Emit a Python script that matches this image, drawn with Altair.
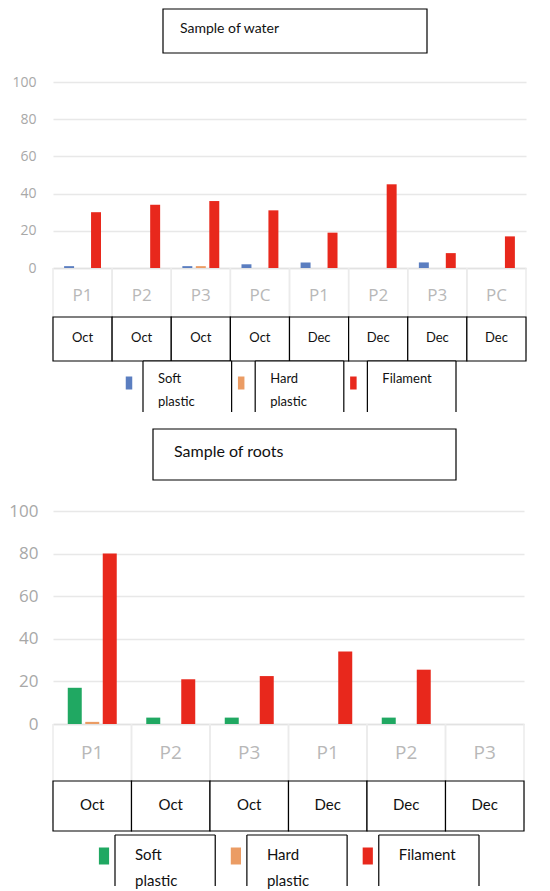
import altair as alt
import pandas as pd

series = ["Soft plastic", "Hard plastic", "Filament"]
y_ticks = [0, 20, 40, 60, 80, 100]

water_title = "Sample of water"
water_months = ["Oct", "Oct", "Oct", "Oct", "Dec", "Dec", "Dec", "Dec"]
water_sites = ["P1", "P2", "P3", "PC", "P1", "P2", "P3", "PC"]
water_soft = [1, 0, 1, 2, 3, 0, 3, 0]
water_hard = [0, 0, 1, 0, 0, 0, 0, 0]
water_fil = [30, 34, 36, 31, 19, 45, 8, 17]
water_colors = ["#5b7ec0", "#eb9c64", "#e8281c"]

roots_title = "Sample of roots"
roots_months = ["Oct", "Oct", "Oct", "Dec", "Dec", "Dec"]
roots_sites = ["P1", "P2", "P3", "P1", "P2", "P3"]
roots_soft = [17, 3, 3, 0, 3, 0]
roots_hard = [1, 0, 0, 0, 0, 0]
roots_fil = [80, 21, 22.5, 34, 25.5, 0]
roots_colors = ["#20a862", "#eb9c64", "#e8281c"]

LW = dict(width=473, height=186, xfs=17, xlp=19, sep_bot=271, pi=0.26, po=0.825,
          yfs=14, ylp=17, mb_top=235, mb_bot=279, mb_text=256, mb_fs=13,
          lg0=90, lg1=403, lpi=0.21, lg_top=279, lg_bot=330, sw_y=301, sw_dx=-14,
          sw_path="M-0.5,-1H0.5V1H-0.5Z", sw_size=169, lt_dx=15, lt_y=291, lt_lh=23, lt_fs=13,
          tb_x=110, tb_x2=374, tb_y=-73, tb_y2=-29, tt_x=127, tt_y=-53, tt_fs=14)
LR = dict(width=471, height=213, xfs=19, xlp=19, sep_bot=312, pi=0.2, po=0.843,
          yfs=17, ylp=15, mb_top=270, mb_bot=320, mb_text=294, mb_fs=15,
          lg0=62, lg1=426, lpi=0.24, lg_top=324, lg_bot=375, sw_y=345, sw_dx=-11,
          sw_path="M-0.6,-1H0.6V1H-0.6Z", sw_size=289, lt_dx=20, lt_y=337, lt_lh=26, lt_fs=15,
          tb_x=100, tb_x2=403, tb_y=-82, tb_y2=-31, tt_x=121, tt_y=-59, tt_fs=16)

BOXFONT = "Lato"
AXFONT = "Open Sans"


def panel(title, months, sites, soft, hard, fil, colors, L):
    cats = [f"{m} {s}" for m, s in zip(months, sites)]
    rows = []
    for c, a, b, f in zip(cats, soft, hard, fil):
        for s, v in zip(series, [a, b, f]):
            rows.append({"cat": c, "series": s, "value": v})
    bars_df = pd.DataFrame(rows)
    cat_df = pd.DataFrame({"cat": cats, "month": months})
    leg_df = pd.DataFrame({"series": series})
    title_df = pd.DataFrame({"title": [title]})
    band = L["width"] / len(cats)

    def xs():
        return alt.Scale(domain=cats, paddingInner=0, paddingOuter=0)

    def ls():
        return alt.Scale(type="band", domain=series, range=[L["lg0"], L["lg1"]],
                         paddingInner=L["lpi"], paddingOuter=0)

    color = alt.Color("series:N", scale=alt.Scale(domain=series, range=colors), legend=None)

    bars = alt.Chart(bars_df).mark_bar().encode(
        x=alt.X("cat:N", scale=xs(), sort=cats, title=None,
                axis=alt.Axis(labelExpr="split(datum.label, ' ')[1]", labelAngle=0,
                              labelFontSize=L["xfs"], labelColor="#b8b8b8", labelFont=AXFONT,
                              labelPadding=L["xlp"], ticks=False, domainColor="#e2e2e2",
                              domainWidth=1.5, zindex=0)),
        xOffset=alt.XOffset("series:N", sort=series,
                            scale=alt.Scale(domain=series, range=[0, band],
                                            paddingInner=L["pi"], paddingOuter=L["po"])),
        y=alt.Y("value:Q", scale=alt.Scale(domain=[0, 100], nice=False), title=None,
                axis=alt.Axis(values=y_ticks, grid=True, gridColor="#e8e8e8", gridWidth=1.5,
                              domain=False, ticks=False, labelFontSize=L["yfs"],
                              labelColor="#a8a8a8", labelFont=AXFONT, labelPadding=L["ylp"])),
        color=color,
    )

    sep_l = alt.Chart(cat_df).mark_rule(color="#ebebeb", strokeWidth=1.5).encode(
        x=alt.X("cat:N", scale=xs(), sort=cats, axis=None, bandPosition=0),
        y=alt.value(L["height"]), y2=alt.value(L["sep_bot"]))
    sep_r = alt.Chart(cat_df).mark_rule(color="#ebebeb", strokeWidth=1.5).encode(
        x=alt.X("cat:N", scale=xs(), sort=cats, axis=None, bandPosition=1),
        y=alt.value(L["height"]), y2=alt.value(L["sep_bot"]))

    mboxes = alt.Chart(cat_df).mark_rect(fill="white", stroke="black", strokeWidth=1.2).encode(
        x=alt.X("cat:N", scale=xs(), sort=cats, axis=None),
        y=alt.value(L["mb_top"]), y2=alt.value(L["mb_bot"]))
    mtext = alt.Chart(cat_df).mark_text(fontSize=L["mb_fs"], font=BOXFONT, color="#111111",
                                        baseline="middle").encode(
        x=alt.X("cat:N", scale=xs(), sort=cats, axis=None, bandPosition=0.5),
        y=alt.value(L["mb_text"]), text="month:N")

    leg_bg = alt.Chart(leg_df).mark_rect(fill="white").encode(
        x=alt.X("series:N", scale=ls(), axis=None),
        y=alt.value(L["lg_top"]), y2=alt.value(L["lg_bot"]))
    leg_topline = alt.Chart(leg_df).mark_rect(fill="black").encode(
        x=alt.X("series:N", scale=ls(), axis=None),
        y=alt.value(L["lg_top"] - 0.6), y2=alt.value(L["lg_top"] + 0.6))
    leg_left = alt.Chart(leg_df).mark_rule(color="black", strokeWidth=1.2).encode(
        x=alt.X("series:N", scale=ls(), axis=None, bandPosition=0),
        y=alt.value(L["lg_top"]), y2=alt.value(L["lg_bot"]))
    leg_right = alt.Chart(leg_df).mark_rule(color="black", strokeWidth=1.2).encode(
        x=alt.X("series:N", scale=ls(), axis=None, bandPosition=1),
        y=alt.value(L["lg_top"]), y2=alt.value(L["lg_bot"]))
    leg_sw = alt.Chart(leg_df).mark_point(shape=L["sw_path"], size=L["sw_size"], filled=True,
                                          opacity=1, xOffset=L["sw_dx"]).encode(
        x=alt.X("series:N", scale=ls(), axis=None, bandPosition=0),
        y=alt.value(L["sw_y"]), color=color)
    leg_tx = alt.Chart(leg_df).mark_text(align="left", baseline="top", lineBreak=" ",
                                         lineHeight=L["lt_lh"], fontSize=L["lt_fs"], font=BOXFONT,
                                         color="#111111", dx=L["lt_dx"]).encode(
        x=alt.X("series:N", scale=ls(), axis=None, bandPosition=0),
        y=alt.value(L["lt_y"]), text="series:N")

    tbox = alt.Chart(title_df).mark_rect(fill="white", stroke="black", strokeWidth=1.2).encode(
        x=alt.value(L["tb_x"]), x2=alt.value(L["tb_x2"]),
        y=alt.value(L["tb_y"]), y2=alt.value(L["tb_y2"]))
    ttext = alt.Chart(title_df).mark_text(align="left", baseline="middle", fontSize=L["tt_fs"],
                                          font=BOXFONT, color="#111111").encode(
        x=alt.value(L["tt_x"]), y=alt.value(L["tt_y"]), text="title:N")

    return alt.layer(bars, sep_l, sep_r, mboxes, mtext, leg_bg, leg_topline, leg_left,
                     leg_right, leg_sw, leg_tx, tbox, ttext).resolve_scale(
        x="independent").properties(width=L["width"], height=L["height"])


top = panel(water_title, water_months, water_sites, water_soft, water_hard, water_fil,
            water_colors, LW)
bottom = panel(roots_title, roots_months, roots_sites, roots_soft, roots_hard, roots_fil,
               roots_colors, LR)

chart = alt.vconcat(top, bottom, spacing=15).resolve_scale(
    color="independent", xOffset="independent").properties(
    padding=0, background="white").configure_view(stroke=None)

chart.save("out.html", embed_options={"renderer": "svg", "actions": False})
